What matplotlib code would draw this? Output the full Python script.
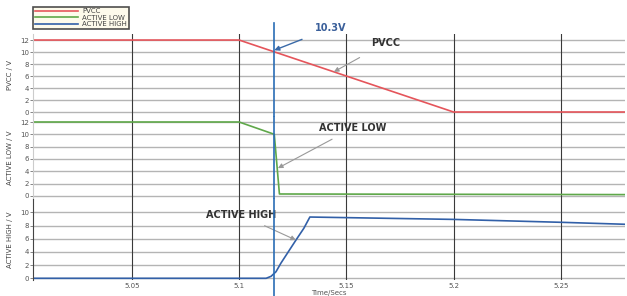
import numpy as np
import matplotlib.pyplot as plt

# data
time_pvcc = [5.004, 5.1, 5.2, 5.28]
pvcc = [12, 12, 0, 0]

time_low = [5.004, 5.1, 5.1164, 5.1188, 5.28]
active_low = [12, 12, 10, 0.3, 0.2]

time_high = [5.004, 5.1126, 5.1149, 5.1172, 5.1195, 5.1265, 5.1302, 5.133, 5.2, 5.25, 5.28]
active_high = [0, 0, 0.3, 1.0, 2.3, 5.8, 7.6, 9.3, 8.94, 8.5, 8.2]

x_ticks = [5.05, 5.1, 5.15, 5.2, 5.25]
x_labels = ["5.05", "5.1", "5.15", "5.2", "5.25"]
marker_t = 5.1164

red = "#e5555b"
green = "#5fa84a"
blue = "#3260a8"
hgrid = "#b4b4b4"
vgrid = "#3a3a3a"

fig = plt.figure(figsize=(6.27, 2.96), dpi=100)
left, width = 0.053, 0.944
ax1 = fig.add_axes([left, 0.608, width, 0.277])
ax2 = fig.add_axes([left, 0.328, width, 0.280])
ax3 = fig.add_axes([left, 0.054, width, 0.274])

l1, = ax1.plot(time_pvcc, pvcc, color=red, lw=1.2, label="PVCC")
l2, = ax2.plot(time_low, active_low, color=green, lw=1.2, label="ACTIVE LOW")
l3, = ax3.plot(time_high, active_high, color=blue, lw=1.2, label="ACTIVE HIGH")

ax1.set_ylim(-0.67, 13)
ax2.set_ylim(-0.5, 12.97)
ax3.set_ylim(-0.26, 12.05)
ax1.set_yticks(range(0, 13, 2))
ax2.set_yticks(range(0, 13, 2))
ax3.set_yticks(range(0, 11, 2))

for ax, lab in zip([ax1, ax2, ax3], ["PVCC / V", "ACTIVE LOW / V", "ACTIVE HIGH / V"]):
    ax.set_xlim(5.004, 5.28)
    ax.set_xticks(x_ticks)
    for y in ax.get_yticks():
        ax.axhline(y, color=hgrid, lw=1.0, zorder=0)
    for x in x_ticks:
        ax.axvline(x, color=vgrid, lw=0.8, zorder=0)
    for s in ["top", "right", "bottom"]:
        ax.spines[s].set_visible(False)
    ax.spines["left"].set_color("#cccccc")
    ax.tick_params(axis="y", labelsize=5, colors="#555555", length=2, width=0.5, pad=1)
    ax.tick_params(axis="x", length=0)
    ax.set_ylabel(lab, fontsize=5, color="#444444", labelpad=4)
    ax.yaxis.set_label_coords(-0.035, 0.5)
    ax.patch.set_alpha(0)

ax3.spines["left"].set_color("#444444")
ax1.set_xticklabels([])
ax2.set_xticklabels([])
ax3.set_xticklabels(x_labels, fontsize=5, color="#555555")
ax3.tick_params(axis="x", pad=2)
ax3.set_xlabel("Time/Secs", fontsize=5, color="#555555", labelpad=1)

# blue marker line through all panels
ax1.axvline(marker_t, ymin=0, ymax=1.14, color="#2a6db5", lw=1.2, clip_on=False, zorder=5)
ax2.axvline(marker_t, color="#2a6db5", lw=1.2, zorder=5)
ax3.axvline(marker_t, ymin=-0.25, ymax=1, color="#2a6db5", lw=1.2, clip_on=False, zorder=5)

# annotations
ax1.annotate("10.3V", xy=(marker_t, 10.3), xytext=(5.1428, 14.0),
             fontsize=7, fontweight="bold", color="#3a5f9a", ha="center", va="center",
             annotation_clip=False,
             arrowprops=dict(arrowstyle="-|>", color="#3a6aa8", lw=1.0, shrinkA=8, shrinkB=0))
ax1.annotate("PVCC", xy=(5.1442, 6.7), xytext=(5.1684, 11.5),
             fontsize=7, fontweight="bold", color="#333333", ha="center", va="center",
             arrowprops=dict(arrowstyle="-|>", color="#999999", lw=0.8, shrinkA=10, shrinkB=0))
ax2.annotate("ACTIVE LOW", xy=(5.1181, 4.5), xytext=(5.153, 11.0),
             fontsize=7, fontweight="bold", color="#333333", ha="center", va="center",
             arrowprops=dict(arrowstyle="-|>", color="#999999", lw=0.8, shrinkA=5, shrinkB=0))
ax3.annotate("ACTIVE HIGH", xy=(5.1265, 5.8), xytext=(5.101, 9.6),
             fontsize=7, fontweight="bold", color="#333333", ha="center", va="center",
             arrowprops=dict(arrowstyle="-|>", color="#999999", lw=0.8, shrinkA=5, shrinkB=0))

leg = fig.legend(handles=[l1, l2, l3], loc="upper left", bbox_to_anchor=(0.053, 0.978),
                 fontsize=5, frameon=True, fancybox=False, handlelength=6.2,
                 labelspacing=0.05, borderpad=0.25, handletextpad=0.6, borderaxespad=0)
leg.get_frame().set_edgecolor("#222222")
leg.get_frame().set_linewidth(1.2)
leg.get_frame().set_facecolor("#fdf9e6")
for t in leg.get_texts():
    t.set_color("#444444")

fig.savefig("out.png", dpi=100)
